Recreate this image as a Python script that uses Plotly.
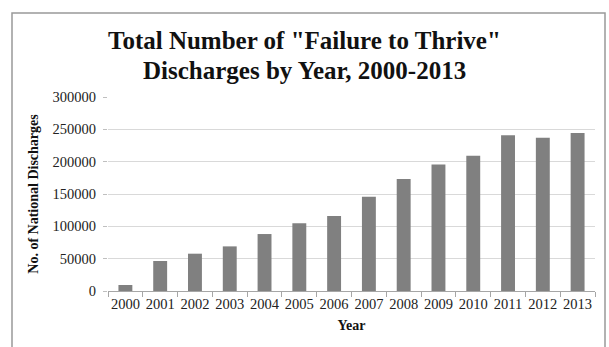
import plotly.graph_objects as go

years = ["2000", "2001", "2002", "2003", "2004", "2005", "2006",
         "2007", "2008", "2009", "2010", "2011", "2012", "2013"]
discharges = [9300, 46400, 57700, 69000, 88100, 104600, 116000,
              145800, 173200, 195800, 209200, 240700, 237000, 244300]
y_ticks = [0, 50000, 100000, 150000, 200000, 250000, 300000]
title_lines = ['Total Number of "Failure to Thrive"', 'Discharges by Year, 2000-2013']

W, H = 609, 347
L, R, T, B = 108, 14, 97, 56
pw, ph = W - L - R, H - T - B

def px_to_paper_x(px):
    return (px - L) / pw

def px_to_paper_y(py):
    return (H - B - py) / ph

serif = "Liberation Serif"

fig = go.Figure(go.Bar(
    x=years, y=discharges,
    marker=dict(color="#808080", line=dict(width=0)),
))

annotations = []
for line, cy in zip(title_lines, [41, 70]):
    annotations.append(dict(
        text="<b>" + line + "</b>", showarrow=False,
        xref="paper", yref="paper",
        x=px_to_paper_x(304), y=px_to_paper_y(cy),
        xanchor="center", yanchor="middle",
        font=dict(family=serif, size=25, color="#111111"),
    ))

border = dict(color="#999999", width=1.5)
bx0, bx1, by0, by1 = px_to_paper_x(12), px_to_paper_x(605), px_to_paper_y(360), px_to_paper_y(13)
shapes = [
    dict(type="path", xref="paper", yref="paper",
         path=f"M {bx0} {by0} L {bx0} {by1} L {bx1} {by1} L {bx1} {by0}",
         line=border, fillcolor="rgba(0,0,0,0)", layer="above"),
]

fig.update_layout(
    width=W, height=H,
    margin=dict(l=L, r=R, t=T, b=B),
    paper_bgcolor="white", plot_bgcolor="white",
    bargap=0.6,
    showlegend=False,
    annotations=annotations,
    shapes=shapes,
    xaxis=dict(
        type="category",
        tickson="boundaries",
        ticks="outside", ticklen=5, tickcolor="#a6a6a6",
        showline=True, linecolor="#a6a6a6", linewidth=1,
        showgrid=False,
        tickangle=0,
        tickfont=dict(family=serif, size=14.5, color="#222222"),
        title=dict(text="<b>Year</b>", font=dict(family=serif, size=14, color="#111111"), standoff=8),
    ),
    yaxis=dict(
        range=[0, 300000],
        tickvals=y_ticks,
        ticktext=[str(v) for v in y_ticks],
        ticks="outside", ticklen=4, tickcolor="#bfbfbf",
        ticklabelstandoff=4,
        showline=False,
        showgrid=True, gridcolor="#d9d9d9", gridwidth=1,
        zeroline=False,
        tickfont=dict(family=serif, size=14.5, color="#222222"),
        title=dict(text="<b>No. of National Discharges</b>", font=dict(family=serif, size=14, color="#111111"), standoff=10),
    ),
)

fig.write_html("out.html")
